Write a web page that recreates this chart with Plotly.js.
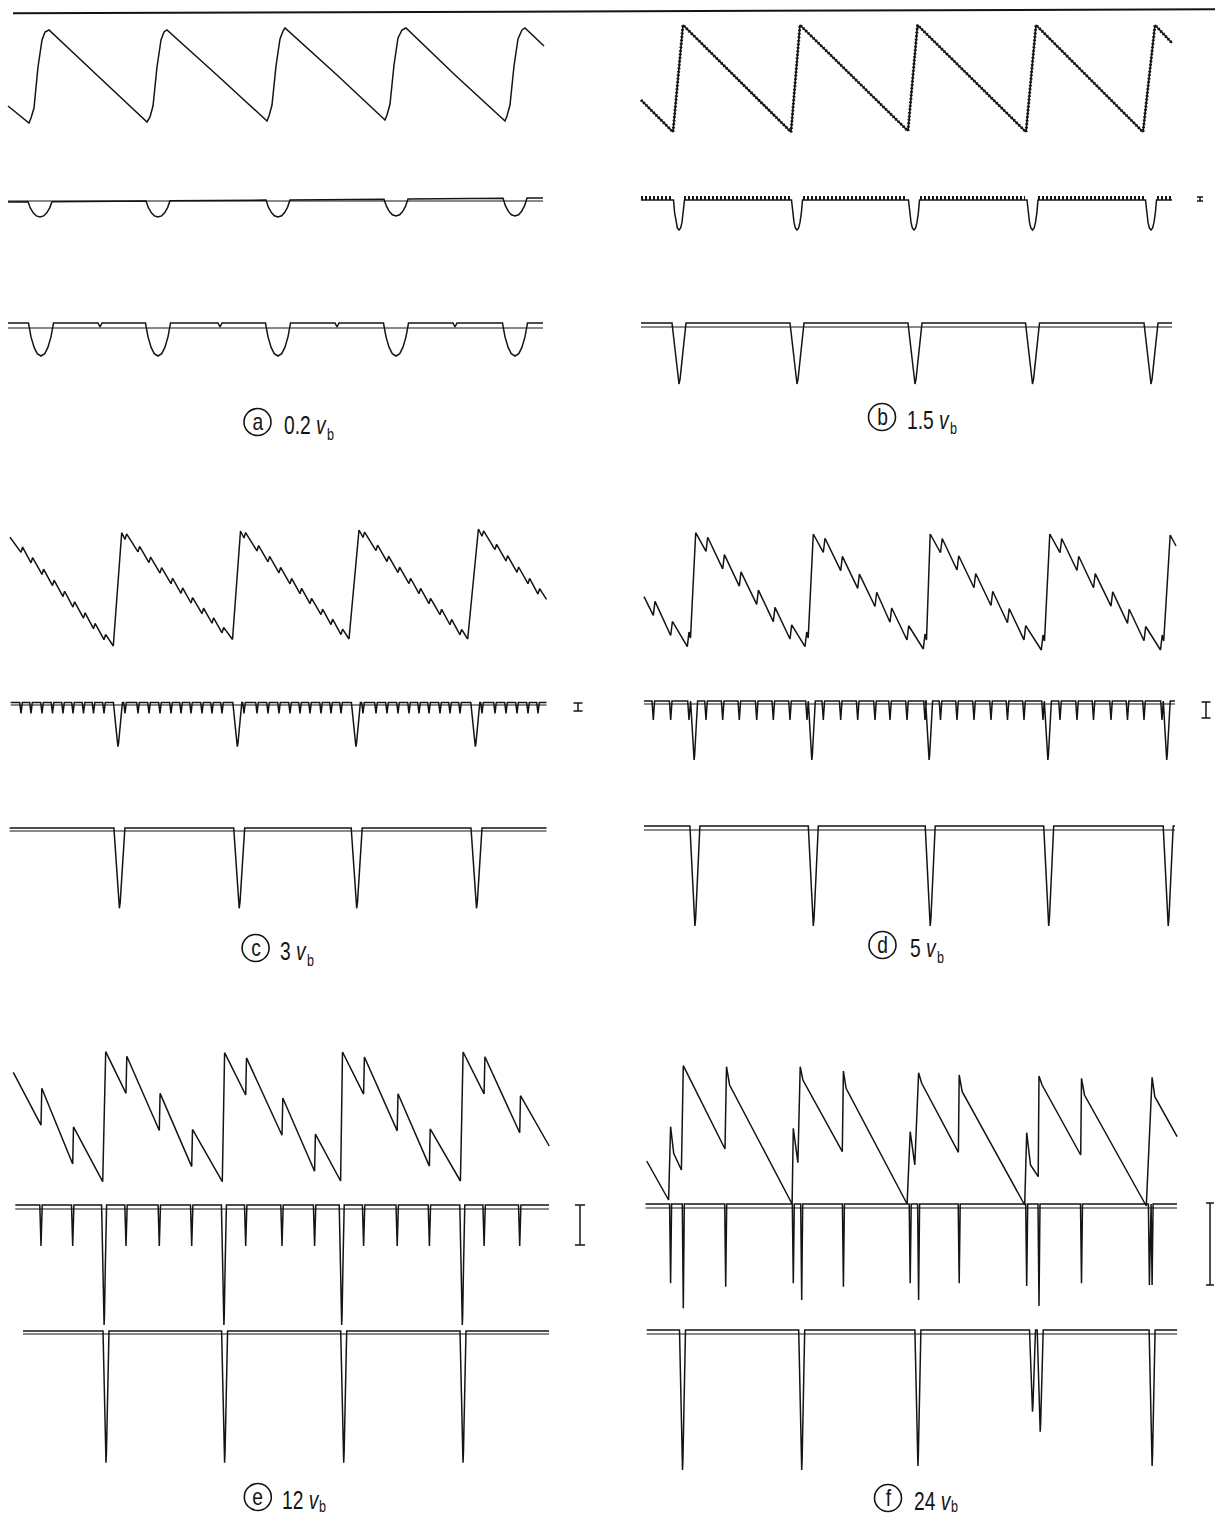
<!DOCTYPE html>
<html><head><meta charset="utf-8">
<script src="https://cdn.plot.ly/plotly-3.0.1.min.js"></script>
<style>html,body{margin:0;padding:0;background:#fff;}#chart{width:1215px;height:1517px;}</style>
</head><body><div id="chart"></div>
<script>
// ================= DATA =================
const panelLetters = ['a', 'b', 'c', 'd', 'e', 'f'];
const panelSpeeds  = ['0.2', '1.5', '3', '5', '12', '24'];

// ---- (a) 0.2 vb ----
const aTopT = [8, 29, 31, 34, 38, 42, 45, 49, 99, 147, 150, 153, 157, 161, 164, 167, 218, 267, 269, 272, 276, 280, 283, 285, 337, 385, 387, 390, 394, 398, 402, 406, 455, 505, 507, 510, 514, 518, 522, 525, 544];
const aTopV = [17, 0, 5, 15, 56, 83, 91, 93, 46, 1, 6, 17, 56, 83, 91, 93, 47, 2, 7, 18, 57, 84, 92, 95, 48, 3, 8, 19, 58, 85, 93, 95, 48, 2, 7, 18, 57, 84, 93, 95, 77];
const aMidSpan = [8, 543]; const aMidLevel = [-1, 3];
const aMidDipT = [40, 158, 278, 396, 515];
const aMidDipV = [-16, -16, -16, -15, -15];
const aBotSpan = [8, 543]; const aBotLevel = [5, 5];
const aBotNotchT = [100, 220, 337, 455];
const aBotNotchV = [1, 1, 1, 1];
const aBotDipT = [41, 158, 278, 396, 515];
const aBotDipV = [-28, -28, -28, -28, -28];

// ---- (b) 1.5 vb ----
const bTopT = [31, 63, 73, 181, 190, 298, 307.5, 416, 426, 533, 545, 562];
const bTopV = [32, 0, 107, 0, 107, 1, 107, 0, 107, 0, 107, 89];
const bMidSpan = [31, 562]; const bMidLevel = [0, 0];
const bMidDipT = [69, 187, 304, 422.5, 541];
const bMidDipV = [-30, -30, -30, -30, -30];
const bRippleStart = [31, 74, 193, 310, 428, 547];
const bRippleEnd   = [62, 180, 297, 415, 534, 562];
const bBotSpan = [31, 562]; const bBotLevel = [4, 4];
const bBotDipT = [69, 187, 305, 422.5, 541];
const bBotDipV = [-57, -57, -57, -57, -57];

// ---- (c) 3 vb ----
const cTopT = [10, 113.3, 121.7, 232.5, 240.5, 349, 359, 467.7, 478.4, 546.5];
const cTopV = [108.7, 0, 113.3, 6.5, 115, 7, 116, 7, 117, 46.7];
const cKinkT = [21, 31, 42, 52.5, 63, 73, 83.5, 93.5, 104, 125, 138, 149, 160, 171, 181, 191, 202, 212, 222, 244, 257, 268, 279, 290, 300, 310, 321, 331, 341, 363, 376, 387, 398, 409, 419, 429, 440, 450, 460, 482, 495, 506, 517, 528, 538];
const cKinkJump = 7;
const cMidSpan = [10.7, 546.5]; const cMidLevel = [2.5, 2.5];
const cMidToothV = -8.3;
const cMidDipT = [117.9, 237.3, 355.9, 475.3];
const cMidDipV = [-41.7, -41.7, -41.7, -41.7];
const cBotSpan = [9.6, 546.5]; const cBotLevel = [3, 3];
const cBotDipT = [119.4, 239.2, 356.7, 476.5];
const cBotDipV = [-77.3, -77.3, -77.3, -77.3];

// ---- (d) 5 vb ----
const dTopT = [34, 77.3, 79, 80.5, 85.7, 195, 196.7, 198.2, 203.3, 313.3, 315, 316.5, 320.2, 431.3, 433, 434.5, 439.8, 550.5, 552.2, 553.7, 560.2, 566];
const dTopV = [51.3, 1.3, 16, 10, 115.3, 1.3, 16, 10, 114, -1, 14, 8, 114, -2, 13, 7, 114, -2, 13, 7, 113, 102];
const dKinkT = [43.3, 60.7, 96, 112.7, 129.3, 146.7, 163.3, 180, 213.3, 230.7, 247.7, 265, 280, 297, 330.5, 347, 364, 381, 397.5, 414, 450, 467, 483.5, 501, 517.5, 534];
const dKinkJump = 16;
const dMidSpan = [34, 565]; const dMidLevel = [3, 3];
const dMidSpikeT = [43.3, 60.7, 79, 96, 112.7, 129.3, 146.7, 163.3, 180, 197, 213.3, 230.7, 247.7, 265, 280, 297, 315, 330.5, 347, 364, 381, 397.5, 414, 433, 450, 467, 483.5, 501, 517.5, 534, 552];
const dMidSpikeV = -16;
const dMidDipT = [84.1, 201.8, 319.1, 437.9, 556.7];
const dMidDipV = [-56, -56, -56, -56, -56];
const dBotSpan = [34, 565]; const dBotLevel = [4, 4];
const dBotDipT = [84.9, 203.3, 320.2, 438.7, 558.2];
const dBotDipV = [-96, -96, -96, -96, -96];

// ---- (e) 12 vb ----
const eTopT = [13.3, 102.7, 105.7, 222.3, 224.6, 340.6, 342.5, 460.4, 463.1, 549.2];
const eTopV = [109.7, 0.3, 130.3, 0.3, 129.3, 1, 130, 1, 130, 36];
const eKinkT = [41, 72.7, 126, 159.3, 191.7, 245.7, 282, 314.6, 363.6, 397.2, 429.4, 484.1, 519.7];
const eKinkJump = 38;
const eMidSpan = [15.3, 549]; const eMidLevel = [4, 4];
const eMidSpikeV = -37;
const eMidDipT = [104.1, 223.9, 341.7, 462.3];
const eMidDipV = [-116, -116, -116, -116];
const eBotSpan = [23, 549]; const eBotLevel = [3, 3];
const eBotDipT = [106, 224.6, 343.7, 463];
const eBotDipV = [-128.7, -128.7, -128.7, -128.7];

// ---- (f) 24 vb ----
const fTopT = [36.7, 58.6, 60.6, 63.7, 71.4, 73.3, 115, 116.5, 119.6, 182.1, 183.3, 187.9, 190.2, 192.9, 232.3, 233.4, 236.1, 297.1, 300.2, 304.8, 308.6, 311.7, 348.4, 349.2, 352.2, 414.7, 416.7, 420.5, 428.2, 429, 432.1, 470.7, 471.5, 474.5, 536.3, 539.4, 542.1, 544.8, 567.1];
const fTopV = [44, 5, 78.3, 51.7, 35, 139.3, 56, 138.3, 120, 1, 76.7, 42.3, 138.3, 125, 53.3, 134, 116.7, 1, 73.3, 40, 132.3, 121.7, 52.7, 130, 113.3, 0, 72.3, 40, 28.3, 129, 120, 50, 126.7, 110, -1, 65, 127.7, 108.3, 68.3];
const fMidSpan = [35.5, 567]; const fMidLevel = [4, 4];
const fMidSpikeT = [60.6, 73.3, 115.7, 183.3, 191.7, 233.4, 300.2, 308.6, 349.2, 416.7, 429, 471.5, 539.4, 542.1];
const fMidSpikeV = [-75.3, -100.3, -78.7, -75.3, -92, -78.7, -75.3, -92, -75.3, -78, -98, -75.3, -77, -77];
const fBotSpan = [36.7, 567.1]; const fBotLevel = [4, 4];
const fBotDipT = [72.5, 191.7, 307.9, 422.5, 430.2, 542.1];
const fBotDipV = [-136, -136, -132, -77.7, -97.7, -132];

// calibration bars (top, bottom value) on the middle traces of b..f
const scaleBarV = [null, [3, -1], [2, -6], [2, -14], [4, -36], [5, -77]];

// ================= LAYOUT CONFIG (positions / sizes / styles) =================
const W = 1215, H = 1517;
const COLS = [{x0: 0, x1: 605}, {x0: 610, x1: 1215}];
const PANEL_BOX = [
  {col: 0, rows: [{base: 123, top: 10, bot: 140}, {base: 201, top: 180, bot: 232}, {base: 328, top: 300, bot: 370}]},
  {col: 1, rows: [{base: 132, top: 10, bot: 145}, {base: 200, top: 180, bot: 240}, {base: 327, top: 300, bot: 395}]},
  {col: 0, rows: [{base: 646, top: 515, bot: 662}, {base: 705, top: 690, bot: 757}, {base: 831, top: 810, bot: 915}]},
  {col: 1, rows: [{base: 648, top: 520, bot: 665}, {base: 704, top: 690, bot: 770}, {base: 830, top: 810, bot: 935}]},
  {col: 0, rows: [{base: 1182, top: 1040, bot: 1195}, {base: 1209, top: 1195, bot: 1335}, {base: 1334, top: 1320, bot: 1472}]},
  {col: 1, rows: [{base: 1205, top: 1050, bot: 1215}, {base: 1208, top: 1195, bot: 1315}, {base: 1334, top: 1320, bot: 1480}]}
];
const SCALE_BAR_T = [null, 590, 578, 596, 580, 600];
const SCALE_BAR_HW = [0, 3, 4.5, 4.5, 5, 4];
const LABEL_POS = [
  {cx: 257.5, cy: 422, tx: 283, sub: 12}, {cx: 882, cy: 417, tx: 906, sub: 12},
  {cx: 255.6, cy: 948, tx: 279, sub: 12}, {cx: 882.5, cy: 945, tx: 909, sub: 12},
  {cx: 257.8, cy: 1497, tx: 281, sub: 9}, {cx: 888, cy: 1498, tx: 913, sub: 8.5}
];
const INK = '#141414';
const LFONT = "'Liberation Sans', Arimo, Arial, sans-serif";
const LBL_SIZE = 26, LBL_SCALE = 0.74, SUB_SIZE = 17, LETTER_SIZE = 24, LETTER_SCALE = 0.8;
const CHAR_W = {'0': 0.556, '1': 0.556, '2': 0.556, '3': 0.556, '4': 0.556, '5': 0.556, '.': 0.278, ' ': 0.278, 'v': 0.5};

const SHAPE = {
  U: [[-1, 0], [-0.8, 0.42], [-0.55, 0.74], [-0.3, 0.93], [0, 1], [0.3, 0.93], [0.55, 0.74], [0.8, 0.42], [1, 0]],
  V: [[-1, 0], [0, 1], [1, 0]],
  F: [[-1, 0], [-0.5, 0.5], [-0.15, 0.92], [0, 1], [0.15, 0.92], [0.5, 0.5], [1, 0]]
};

// ================= builders =================
function sawtooth(t, v, kinks, jump, kw) {
  const L = x => {
    for (let i = 0; i < t.length - 1; i++)
      if (x >= t[i] && x <= t[i + 1]) return v[i] + (v[i + 1] - v[i]) * (x - t[i]) / (t[i + 1] - t[i]);
    return v[v.length - 1];
  };
  const pts = t.map((x, i) => [x, v[i]]);
  (kinks || []).forEach(k => { pts.push([k, L(k) - jump / 2]); pts.push([k + kw, L(k + kw) + jump / 2]); });
  pts.sort((a, b) => a[0] - b[0]);
  return {x: pts.map(p => p[0]), y: pts.map(p => p[1])};
}
function pulseTrain(span, level, groups) {
  const lvl = x => level[0] + (level[1] - level[0]) * (x - span[0]) / (span[1] - span[0]);
  const ev = [];
  groups.forEach(g => g.t.forEach((c, i) => ev.push({c, v: Array.isArray(g.v) ? g.v[i] : g.v, hw: g.hw, s: g.shape})));
  ev.sort((a, b) => a.c - b.c);
  const X = [span[0]], Y = [level[0]];
  ev.forEach(e => SHAPE[e.s].forEach(([o, f]) => {
    const x = e.c + o * e.hw; X.push(x); Y.push(lvl(x) + f * (e.v - lvl(x)));
  }));
  X.push(span[1]); Y.push(level[1]);
  return {x: X, y: Y};
}
function flat(span) { return {x: [span[0], span[1]], y: [0, 0]}; }

const panels = [
  { top: sawtooth(aTopT, aTopV, [], 0, 0),
    mid: [pulseTrain(aMidSpan, aMidLevel, [{t: aMidDipT, v: aMidDipV, hw: 12, shape: 'U'}]), flat(aMidSpan)],
    bot: [pulseTrain(aBotSpan, aBotLevel, [{t: aBotDipT, v: aBotDipV, hw: 12.5, shape: 'U'}, {t: aBotNotchT, v: aBotNotchV, hw: 2, shape: 'V'}]), flat(aBotSpan)] },
  { top: sawtooth(bTopT, bTopV, [], 0, 0),
    mid: [pulseTrain(bMidSpan, bMidLevel, [{t: bMidDipT, v: bMidDipV, hw: 5.5, shape: 'U'}])],
    bot: [pulseTrain(bBotSpan, bBotLevel, [{t: bBotDipT, v: bBotDipV, hw: 7, shape: 'F'}]), flat(bBotSpan)] },
  { top: sawtooth(cTopT, cTopV, cKinkT, cKinkJump, 1.6),
    mid: [pulseTrain(cMidSpan, cMidLevel, [{t: cKinkT, v: cMidToothV, hw: 1.3, shape: 'V'}, {t: cMidDipT, v: cMidDipV, hw: 4.5, shape: 'F'}]), flat(cMidSpan)],
    bot: [pulseTrain(cBotSpan, cBotLevel, [{t: cBotDipT, v: cBotDipV, hw: 5.5, shape: 'F'}]), flat(cBotSpan)] },
  { top: sawtooth(dTopT, dTopV, dKinkT, dKinkJump, 1.7),
    mid: [pulseTrain(dMidSpan, dMidLevel, [{t: dMidSpikeT, v: dMidSpikeV, hw: 1.3, shape: 'V'}, {t: dMidDipT, v: dMidDipV, hw: 3.5, shape: 'F'}]), flat(dMidSpan)],
    bot: [pulseTrain(dBotSpan, dBotLevel, [{t: dBotDipT, v: dBotDipV, hw: 5, shape: 'F'}]), flat(dBotSpan)] },
  { top: sawtooth(eTopT, eTopV, eKinkT, eKinkJump, 0.8),
    mid: [pulseTrain(eMidSpan, eMidLevel, [{t: eKinkT, v: eMidSpikeV, hw: 1.2, shape: 'V'}, {t: eMidDipT, v: eMidDipV, hw: 2.5, shape: 'F'}]), flat(eMidSpan)],
    bot: [pulseTrain(eBotSpan, eBotLevel, [{t: eBotDipT, v: eBotDipV, hw: 3, shape: 'F'}]), flat(eBotSpan)] },
  { top: sawtooth(fTopT, fTopV, [], 0, 0),
    mid: [pulseTrain(fMidSpan, fMidLevel, [{t: fMidSpikeT, v: fMidSpikeV, hw: 1.0, shape: 'V'}]), flat(fMidSpan)],
    bot: [pulseTrain(fBotSpan, fBotLevel, [{t: fBotDipT, v: fBotDipV, hw: 3, shape: 'F'}]), flat(fBotSpan)] }
];

const data = [];
const layout = {
  width: W, height: H, margin: {l: 0, r: 0, t: 0, b: 0},
  paper_bgcolor: '#ffffff', plot_bgcolor: 'rgba(0,0,0,0)', showlegend: false,
  shapes: [], annotations: []
};
const condense = []; // per annotation: [transform-origin, scale]
function addLine(xr, yr, d, w, dash) {
  data.push({type: 'scatter', mode: 'lines', x: d.x, y: d.y, xaxis: xr, yaxis: yr,
    line: {color: INK, width: w, dash: dash || 'solid'}, hoverinfo: 'skip'});
}
function addText(x, y, text, size, xanchor, origin, scale) {
  layout.annotations.push({xref: 'paper', yref: 'paper', x: x / W, y: 1 - y / H,
    xanchor: xanchor, yanchor: 'middle', align: xanchor === 'left' ? 'left' : 'center',
    showarrow: false, text: text, borderpad: 0,
    font: {family: LFONT, size: size, color: INK}});
  condense.push([origin, scale]);
}

PANEL_BOX.forEach((pb, p) => {
  const col = COLS[pb.col];
  const xname = p === 0 ? 'x' : 'x' + (p + 1);
  layout[p === 0 ? 'xaxis' : 'xaxis' + (p + 1)] = {
    domain: [col.x0 / W, col.x1 / W], range: [0, col.x1 - col.x0],
    visible: false, fixedrange: true, anchor: p === 0 ? 'y' : 'y' + (p * 3 + 1)
  };
  const ynames = pb.rows.map((r, k) => {
    const n = p * 3 + k + 1;
    layout[n === 1 ? 'yaxis' : 'yaxis' + n] = {
      domain: [1 - r.bot / H, 1 - r.top / H], range: [r.base - r.bot, r.base - r.top],
      visible: false, fixedrange: true, anchor: xname
    };
    return n === 1 ? 'y' : 'y' + n;
  });
  const P = panels[p];
  addLine(xname, ynames[0], P.top, p === 1 ? 1.7 : 1.5);
  if (p === 1) addLine(xname, ynames[0], P.top, 3, '1.5px,2px');
  P.mid.forEach((d, i) => addLine(xname, ynames[1], d, i === 0 ? 1.5 : 1.1));
  P.bot.forEach((d, i) => addLine(xname, ynames[2], d, i === 0 ? 1.5 : 1.2));
  if (scaleBarV[p]) {
    const t = SCALE_BAR_T[p], hw = SCALE_BAR_HW[p], [v1, v0] = scaleBarV[p];
    addLine(xname, ynames[1], {x: [t - hw, t + hw, null, t, t, null, t - hw, t + hw], y: [v1, v1, null, v1, v0, null, v0, v0]}, 1.5);
  }
  // label: circled letter, speed, italic v, subscript b
  const lp = LABEL_POS[p], r = 13.5;
  layout.shapes.push({type: 'circle', xref: 'paper', yref: 'paper',
    x0: (lp.cx - r) / W, x1: (lp.cx + r) / W, y0: 1 - (lp.cy + r) / H, y1: 1 - (lp.cy - r) / H,
    line: {color: INK, width: 1.6}});
  addText(lp.cx, lp.cy - 0.5, panelLetters[p], LETTER_SIZE, 'center', '50% 50%', LETTER_SCALE);
  addText(lp.tx, lp.cy + 3, panelSpeeds[p] + ' <i>v</i>', LBL_SIZE, 'left', '0% 50%', LBL_SCALE);
  const wEm = (panelSpeeds[p] + ' v').split('').reduce((s, ch) => s + (CHAR_W[ch] || 0.556), 0);
  addText(lp.tx + wEm * LBL_SIZE * LBL_SCALE + 1, lp.cy + lp.sub, 'b', SUB_SIZE, 'left', '0% 50%', LBL_SCALE);
});

const rx = [], ry = [];
bRippleStart.forEach((s, i) => { rx.push(s, bRippleEnd[i], null); ry.push(2, 2, null); });
data.push({type: 'scatter', mode: 'lines', x: rx, y: ry, xaxis: 'x2', yaxis: 'y5',
  line: {color: INK, width: 4, dash: '2px,2px'}, hoverinfo: 'skip'});

layout.shapes.push({type: 'line', xref: 'paper', yref: 'paper', x0: 13 / W, x1: 1, y0: 1 - 13.3 / H, y1: 1 - 9.3 / H,
  line: {color: INK, width: 2}});

Plotly.newPlot('chart', data, layout, {staticPlot: true, displayModeBar: false}).then(gd => {
  gd.querySelectorAll('.annotation').forEach((g, i) => {
    const el = g.querySelector('.annotation-text');
    if (!el || !condense[i]) return;
    el.style.transformBox = 'fill-box';
    el.style.transformOrigin = condense[i][0];
    el.style.transform = 'scaleX(' + condense[i][1] + ')';
  });
});
</script>
</body></html>
